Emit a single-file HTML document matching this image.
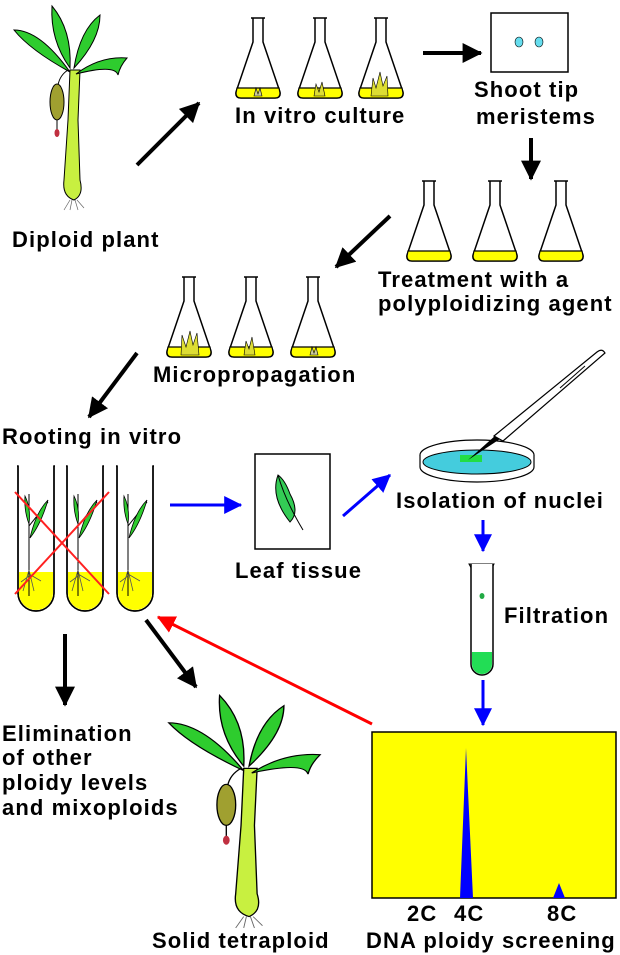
<!DOCTYPE html>
<html><head><meta charset="utf-8"><style>
html,body{margin:0;padding:0;background:#fff}
svg{display:block}
text{font-family:"Liberation Sans",Arial,sans-serif;font-weight:bold;font-size:22px;letter-spacing:1.1px;fill:#000}
</style></head><body>
<svg width="620" height="955" viewBox="0 0 620 955" xmlns="http://www.w3.org/2000/svg">
<defs>
<marker id="ak" markerWidth="5" markerHeight="5" refX="4.6" refY="2.5" orient="auto" markerUnits="strokeWidth"><path d="M0,0 L5,2.5 L0,5 z" fill="#000"/></marker>
<marker id="ab" markerWidth="6" markerHeight="6" refX="5.6" refY="3" orient="auto" markerUnits="strokeWidth"><path d="M0,0 L6,3 L0,6 z" fill="#0000ff"/></marker>
<marker id="ar" markerWidth="6" markerHeight="6" refX="5.6" refY="3" orient="auto" markerUnits="strokeWidth"><path d="M0,0 L6,3 L0,6 z" fill="#ff0000"/></marker>
<g id="plant">
  <path d="M70,70 L80,70 L78,120 L80,180 Q84,195 74,200 Q62,196 64,180 L68,120 Z" fill="#c8f040" stroke="#000" stroke-width="1"/>
  <path d="M70,72 Q40,30 14,30 Q30,50 70,72Z" fill="#2ecc2e" stroke="#000" stroke-width="1"/>
  <path d="M70,68 Q72,30 52,6 Q50,40 70,68Z" fill="#2ecc2e" stroke="#000" stroke-width="1"/>
  <path d="M74,68 Q100,40 100,15 Q80,30 74,68Z" fill="#2ecc2e" stroke="#000" stroke-width="1"/>
  <path d="M76,74 Q100,56 127,58 Q120,66 118,75 Q115,64 76,74Z" fill="#2ecc2e" stroke="#000" stroke-width="1"/>
  <path d="M68,70 Q60,75 58,85" fill="none" stroke="#000" stroke-width="1"/>
  <ellipse cx="57" cy="102" rx="7" ry="18" fill="#a0a030" stroke="#000" stroke-width="1"/>
  <line x1="57" y1="120" x2="57" y2="130" stroke="#000"/>
  <ellipse cx="57" cy="133" rx="2.5" ry="4" fill="#c03040"/>
  <path d="M70,200 L64,210 M72,200 L70,210 M75,200 L78,210 M77,200 L84,208" stroke="#666" stroke-width="0.7" fill="none"/>
</g>
<g id="flask">
  <path d="M-7,0 L7,0 M-5,0 L-5,24 L-22,74 Q-23,80 -17,80 L17,80 Q23,80 22,74 L5,24 L5,0" fill="#fff" stroke="#000" stroke-width="1.5"/>
  <path d="M-21,70 L21,70 L22,75 Q22,80 17,80 L-17,80 Q-22,80 -22,75 Z" fill="#ffff00" stroke="#000" stroke-width="1.2"/>
</g>
<g id="tube">
  <path d="M-19,0 L-18,0 L-18,127 A18,18 0 0 0 18,127 L18,0 L19,0" fill="#fff" stroke="#000" stroke-width="1.5"/>
  <path d="M-17,106 L17,106 L17,127 A17,17 0 0 1 -17,127 Z" fill="#ffff00"/>
  <path d="M-18,0 L-18,127 A18,18 0 0 0 18,127 L18,0" fill="none" stroke="#000" stroke-width="1.5"/>
  <path d="M-7,130 L-7,28 M-7,60 Q5,45 12,36" fill="none" stroke="#000" stroke-width="1"/>
  <path d="M-6,72 Q5,58 12,34 Q0,46 -6,72Z M-7,58 Q-12,45 -11,30 Q-5,42 -7,58Z" fill="#2ecc2e" stroke="#000" stroke-width="0.8"/>
  <path d="M-7,104 L-13,125 M-7,104 L-2,125 M-7,108 L5,115 M-7,110 L-15,116" fill="none" stroke="#555" stroke-width="0.8"/>
</g>
</defs>

<use href="#plant"/>
<g transform="translate(166,692) scale(1.34,1.14) translate(-12,-3)"><use href="#plant"/></g>

<!-- row1 flasks -->
<use href="#flask" transform="translate(258,18)"/>
<use href="#flask" transform="translate(320,18)"/>
<use href="#flask" transform="translate(381,18)"/>
<path d="M254,96 l2,-8 l2,6 l2,-6 l2,8z" fill="#cc9" stroke="#000" stroke-width="0.6"/>
<path d="M314,96 l2,-12 l3,8 l3,-10 l3,14z" fill="#dd3" stroke="#000" stroke-width="0.6"/>
<path d="M371,96 l2,-18 l3,10 l4,-16 l3,14 l4,-10 l1,20z" fill="#dd3" stroke="#000" stroke-width="0.6"/>
<!-- row2 flasks -->
<use href="#flask" transform="translate(429,181)"/>
<use href="#flask" transform="translate(495,181)"/>
<use href="#flask" transform="translate(561,181)"/>
<!-- row3 flasks -->
<use href="#flask" transform="translate(189,277)"/>
<use href="#flask" transform="translate(251,277)"/>
<use href="#flask" transform="translate(313,277)"/>
<path d="M181,355 l1,-20 l4,12 l4,-16 l3,14 l4,-12 l2,22z" fill="#dd3" stroke="#000" stroke-width="0.6"/>
<path d="M244,355 l2,-14 l3,8 l3,-12 l3,18z" fill="#dd3" stroke="#000" stroke-width="0.6"/>
<path d="M310,355 l2,-8 l2,6 l2,-6 l2,8z" fill="#cc9" stroke="#000" stroke-width="0.6"/>

<!-- shoot tip box -->
<rect x="491" y="13" width="77" height="59" fill="#fff" stroke="#000" stroke-width="1.5"/>
<ellipse cx="519" cy="42" rx="4" ry="5" fill="#66ddee" stroke="#000" stroke-width="0.6"/>
<ellipse cx="539" cy="42" rx="4" ry="5" fill="#66ddee" stroke="#000" stroke-width="0.6"/>

<!-- black arrows -->
<g stroke="#000" stroke-width="4" fill="none">
<line x1="137" y1="165" x2="199" y2="103" marker-end="url(#ak)"/>
<line x1="423" y1="53" x2="481" y2="53" marker-end="url(#ak)"/>
<line x1="531" y1="138" x2="531" y2="179" marker-end="url(#ak)"/>
<line x1="390" y1="216" x2="336" y2="267" marker-end="url(#ak)"/>
<line x1="137" y1="353" x2="89" y2="417" marker-end="url(#ak)"/>
<line x1="65" y1="634" x2="65" y2="705" marker-end="url(#ak)"/>
<line x1="146" y1="620" x2="196" y2="687" marker-end="url(#ak)"/>
</g>

<!-- tubes -->
<use href="#tube" transform="translate(36,466)"/>
<use href="#tube" transform="translate(85,466)"/>
<use href="#tube" transform="translate(135,466)"/>
<g stroke="#ff2020" stroke-width="2">
<line x1="15" y1="492" x2="109" y2="594"/>
<line x1="15" y1="594" x2="109" y2="492"/>
</g>

<!-- blue arrows -->
<g stroke="#0000ff" stroke-width="3" fill="none">
<line x1="170" y1="505" x2="241" y2="505" marker-end="url(#ab)"/>
<line x1="343" y1="516" x2="390" y2="475" marker-end="url(#ab)"/>
<line x1="483" y1="520" x2="483" y2="551" marker-end="url(#ab)"/>
<line x1="483" y1="680" x2="483" y2="725" marker-end="url(#ab)"/>
</g>
<line x1="372" y1="724" x2="158" y2="617" stroke="#ff0000" stroke-width="3" marker-end="url(#ar)"/>

<!-- leaf box -->
<rect x="255" y="454" width="75" height="95" fill="#fff" stroke="#000" stroke-width="1.5"/>
<path d="M278,475 Q270,497 290,522 Q300,512 290,494 Q285,480 278,475Z" fill="#33cc55" stroke="#000" stroke-width="1"/>
<path d="M278,475 Q285,500 303,530" fill="none" stroke="#000" stroke-width="1"/>

<!-- petri dish -->
<ellipse cx="477" cy="455" rx="57" ry="15" fill="#fff" stroke="#000" stroke-width="1.2"/>
<path d="M420,455 L420,467 A57,15 0 0 0 534,467 L534,455" fill="#fff" stroke="#000" stroke-width="1.2"/>
<ellipse cx="477" cy="462" rx="54" ry="12" fill="#44ccdd" stroke="#000" stroke-width="1"/>
<rect x="460" y="455" width="22" height="7" fill="#22dd44"/>
<path d="M468,460 L496,435 L500,439 Z" fill="#000"/>
<path d="M494,436 L597,352 Q602,348 605,353 L503,441 Z" fill="#fff" stroke="#000" stroke-width="1.2"/>
<line x1="560" y1="388" x2="585" y2="366" stroke="#000"/>

<!-- filtration tube -->
<path d="M469,564 L494,564 L482,588 Z" fill="#fff" stroke="#000" stroke-width="1"/>
<path d="M471,564 L471,664 A10,10 0 0 0 493,664 L493,564" fill="#fff" stroke="#000" stroke-width="1.5"/>
<path d="M472,652 L492,652 L492,664 A10,10 0 0 1 472,664 Z" fill="#22dd55"/>
<ellipse cx="482" cy="596" rx="2.5" ry="3" fill="#22aa44"/>

<!-- chart -->
<rect x="372" y="732" width="244" height="166" fill="#ffff00" stroke="#000" stroke-width="1.5"/>
<path d="M460,898 L466,748 L473,898 Z" fill="#0000ff"/>
<path d="M553,898 L559,883 L565,898 Z" fill="#0000ff"/>

<!-- labels -->
<text x="12" y="247">Diploid plant</text>
<text x="235" y="123">In vitro culture</text>
<text x="474" y="97">Shoot tip</text>
<text x="476" y="124">meristems</text>
<text x="378" y="287">Treatment with a</text>
<text x="378" y="311">polyploidizing agent</text>
<text x="153" y="382">Micropropagation</text>
<text x="2" y="444">Rooting in vitro</text>
<text x="235" y="578">Leaf tissue</text>
<text x="396" y="508">Isolation of nuclei</text>
<text x="504" y="623">Filtration</text>
<text x="2" y="741">Elimination</text>
<text x="2" y="765">of other</text>
<text x="2" y="790">ploidy levels</text>
<text x="2" y="815">and mixoploids</text>
<text x="407" y="921">2C</text>
<text x="454" y="921">4C</text>
<text x="547" y="921">8C</text>
<text x="152" y="948">Solid tetraploid</text>
<text x="366" y="948">DNA ploidy screening</text>
</svg>
</body></html>
